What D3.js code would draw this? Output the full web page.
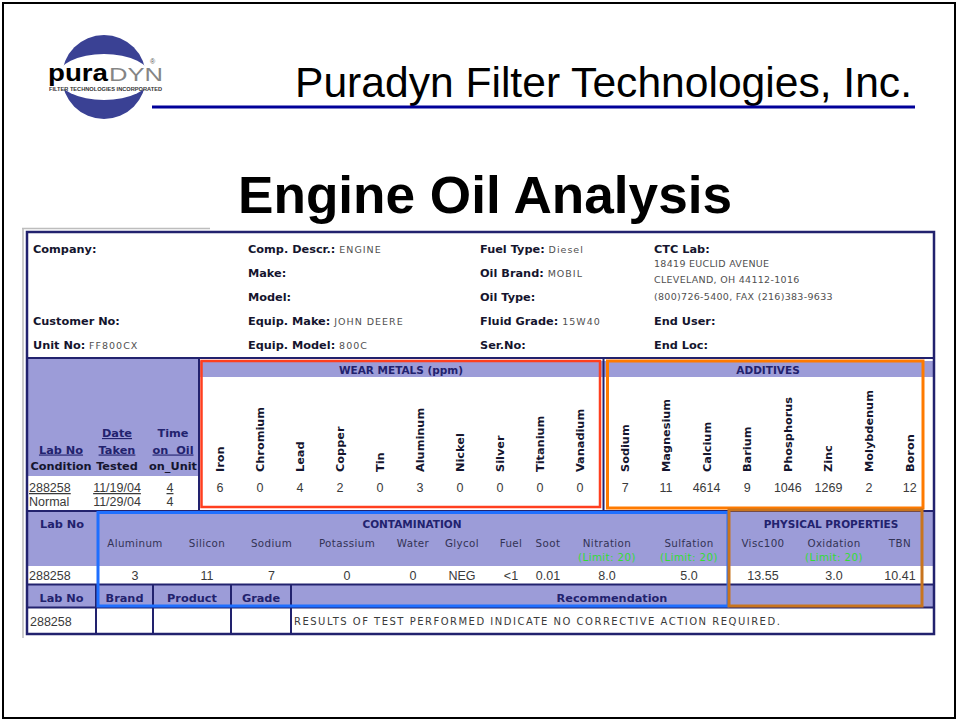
<!DOCTYPE html>
<html>
<head>
<meta charset="utf-8">
<script src="https://cdn.jsdelivr.net/npm/d3@7"></script>
<style>
body { margin: 0; background: #fff; }
</style>
</head>
<body>
<div id="chart"></div>
<script>
// ---- data ----
var company = "Puradyn Filter Technologies, Inc.";
var title = "Engine Oil Analysis";

var infoCol1 = [["Company:", ""], ["", ""], ["", ""], ["Customer No:", ""], ["Unit No:", "FF800CX"]];
var infoCol2 = [["Comp. Descr.:", "ENGINE"], ["Make:", ""], ["Model:", ""], ["Equip. Make:", "JOHN DEERE"], ["Equip. Model:", "800C"]];
var infoCol3 = [["Fuel Type:", "Diesel"], ["Oil Brand:", "MOBIL"], ["Oil Type:", ""], ["Fluid Grade:", "15W40"], ["Ser.No:", ""]];
var infoCol4 = [["CTC Lab:", ""], ["", ""], ["", ""], ["End User:", ""], ["End Loc:", ""]];
var labAddress = ["18419 EUCLID AVENUE", "CLEVELAND, OH 44112-1016", "(800)726-5400, FAX (216)383-9633"];

var sampleHead = [["", "Lab No", "Condition"], ["Date", "Taken", "Tested"], ["Time", "on  Oil", "on_Unit"]];
var sampleRows = [["288258", "11/19/04", "4"], ["Normal", "11/29/04", "4"]];

var wearMetals = ["Iron", "Chromium", "Lead", "Copper", "Tin", "Aluminum", "Nickel", "Silver", "Titanium", "Vanadium"];
var wearValues = [6, 0, 4, 2, 0, 3, 0, 0, 0, 0];

var additives = ["Sodium", "Magnesium", "Calcium", "Barium", "Phosphorus", "Zinc", "Molybdenum", "Boron"];
var additiveValues = [7, 11, 4614, 9, 1046, 1269, 2, 12];

var contamCols = ["Aluminum", "Silicon", "Sodium", "Potassium", "Water", "Glycol", "Fuel", "Soot", "Nitration", "Sulfation"];
var contamValues = ["3", "11", "7", "0", "0", "NEG", "<1", "0.01", "8.0", "5.0"];
var contamLimits = ["", "", "", "", "", "", "", "", "(Limit: 20)", "(Limit: 20)"];

var physCols = ["Visc100", "Oxidation", "TBN"];
var physValues = ["13.55", "3.0", "10.41"];
var physLimits = ["", "(Limit: 20)", ""];

var recHeads = ["Lab No", "Brand", "Product", "Grade", "Recommendation"];
var recRow = ["288258", "", "", "", "RESULTS OF TEST PERFORMED INDICATE NO CORRECTIVE ACTION REQUIRED."];

// ---- layout ----
var SANS = "'Liberation Sans', Arial, sans-serif";
var VERD = "'DejaVu Sans', Verdana, sans-serif";
var NAVY = "#22226e";
var PURPLE = "#9c9cd8";
var INK = "#15152e";
var GREY = "#505050";

var contamWidths = [76, 68, 61, 90, 42, 56, 42, 32, 86, 78];
var physWidths = [70, 72, 60];
var recWidths = [69, 57, 78, 60, 642];

var svg = d3.select("#chart")
	.append("svg")
	.attr("width", 958)
	.attr("height", 721);

// page frame
svg.append("rect")
	.attr("x", 3).attr("y", 3)
	.attr("width", 952).attr("height", 715)
	.attr("fill", "#fff")
	.attr("stroke", "#000")
	.attr("stroke-width", 2);

// ---- logo ----
var logo = svg.append("g");
logo.append("circle")
	.attr("cx", 104).attr("cy", 77).attr("r", 42)
	.attr("fill", "#3a4194");
logo.append("ellipse")
	.attr("cx", 104).attr("cy", 77).attr("rx", 47).attr("ry", 23)
	.attr("fill", "#fff");
logo.append("text")
	.attr("x", 48).attr("y", 81)
	.attr("textLength", 60)
	.attr("lengthAdjust", "spacingAndGlyphs")
	.style("font-family", SANS)
	.style("font-weight", "bold")
	.style("font-size", "24px")
	.text("pura");
logo.append("text")
	.attr("x", 109).attr("y", 81)
	.attr("textLength", 54)
	.attr("lengthAdjust", "spacingAndGlyphs")
	.style("font-family", SANS)
	.style("font-size", "18px")
	.attr("fill", "#858585")
	.text("DYN");
logo.append("text")
	.attr("x", 150).attr("y", 64)
	.style("font-family", SANS)
	.style("font-size", "7px")
	.attr("fill", "#555")
	.text("®");
logo.append("text")
	.attr("x", 49).attr("y", 90.5)
	.attr("textLength", 113)
	.attr("lengthAdjust", "spacingAndGlyphs")
	.style("font-family", SANS)
	.style("font-weight", "bold")
	.style("font-size", "4.5px")
	.attr("fill", "#333")
	.text("FILTER TECHNOLOGIES INCORPORATED");

// ---- titles ----
svg.append("text")
	.attr("x", 295).attr("y", 97)
	.attr("textLength", 617)
	.attr("lengthAdjust", "spacingAndGlyphs")
	.style("font-family", SANS)
	.style("font-size", "42px")
	.text(company);
svg.append("line")
	.attr("x1", 152).attr("x2", 915)
	.attr("y1", 107).attr("y2", 107)
	.attr("stroke", "#000099")
	.attr("stroke-width", 3);
svg.append("text")
	.attr("x", 485).attr("y", 213)
	.attr("text-anchor", "middle")
	.attr("textLength", 494)
	.attr("lengthAdjust", "spacingAndGlyphs")
	.style("font-family", SANS)
	.style("font-weight", "bold")
	.style("font-size", "51px")
	.text(title);

// ---- table backgrounds ----
var tbl = svg.append("g");
tbl.append("path")
	.attr("d", "M22,228.5H210M23,228V638")
	.attr("stroke", "#bdbdbd")
	.attr("stroke-width", 1.5)
	.attr("fill", "none");
tbl.append("rect").attr("x", 27).attr("y", 232).attr("width", 907).attr("height", 402).attr("fill", "#fff");
tbl.append("rect").attr("x", 27).attr("y", 358).attr("width", 172).attr("height", 118).attr("fill", PURPLE);
tbl.append("rect").attr("x", 200).attr("y", 361).attr("width", 734).attr("height", 16).attr("fill", PURPLE);
tbl.append("rect").attr("x", 27).attr("y", 511).attr("width", 907).attr("height", 55).attr("fill", PURPLE);
tbl.append("rect").attr("x", 27).attr("y", 584).attr("width", 907).attr("height", 23).attr("fill", PURPLE);

// navy grid lines
var grid = [
	[27, 358, 934, 358], [199, 358, 199, 511], [603.5, 358, 603.5, 511],
	[27, 511, 934, 511], [27, 584.5, 934, 584.5], [27, 607.5, 934, 607.5]
];
var rx = d3.cumsum(recWidths);
rx.slice(0, 4).forEach(function(v) { grid.push([27 + v, 584, 27 + v, 634]); });
tbl.selectAll(".grid")
	.data(grid)
	.join("line")
	.attr("class", "grid")
	.attr("x1", d => d[0]).attr("y1", d => d[1])
	.attr("x2", d => d[2]).attr("y2", d => d[3])
	.attr("stroke", NAVY)
	.attr("stroke-width", 2);
tbl.append("rect")
	.attr("x", 27).attr("y", 232)
	.attr("width", 907).attr("height", 402)
	.attr("fill", "none")
	.attr("stroke", NAVY)
	.attr("stroke-width", 2.5);

// ---- info block ----
var infoY = d3.scalePoint().domain(d3.range(5)).range([253, 349]);
function infoColumn(rows, x) {
	var t = tbl.selectAll(null)
		.data(rows.filter(r => r[0] !== ""))
		.join("text")
		.attr("x", x)
		.attr("y", d => infoY(rows.indexOf(d)));
	t.append("tspan")
		.style("font-family", VERD)
		.style("font-weight", "bold")
		.style("font-size", "11.3px")
		.attr("fill", INK)
		.text(d => d[0] + " ");
	t.append("tspan")
		.style("font-family", VERD)
		.style("font-size", "9.5px")
		.style("letter-spacing", "1px")
		.attr("fill", GREY)
		.text(d => d[1]);
}
infoColumn(infoCol1, 33);
infoColumn(infoCol2, 248);
infoColumn(infoCol3, 480);
infoColumn(infoCol4, 654);
tbl.selectAll(".addr")
	.data(labAddress)
	.join("text")
	.attr("class", "addr")
	.attr("x", 654)
	.attr("y", (d, i) => 267 + i * 16.3)
	.style("font-family", VERD)
	.style("font-size", "9.5px")
	.style("letter-spacing", "0.3px")
	.attr("fill", GREY)
	.text(d => d);

// ---- sample header block ----
var sx = d3.scaleBand().domain(d3.range(3)).range([33, 201]);
sampleHead.forEach(function(col, ci) {
	col.forEach(function(s, li) {
		if (!s) return;
		tbl.append("text")
			.attr("x", sx(ci) + sx.bandwidth() / 2)
			.attr("y", 437 + li * 16.5)
			.attr("text-anchor", "middle")
			.style("font-family", VERD)
			.style("font-weight", "bold")
			.style("font-size", "11.3px")
			.style("white-space", "pre")
			.style("text-decoration", li < 2 && s !== "Time" ? "underline" : "none")
			.attr("fill", li < 2 ? NAVY : INK)
			.text(s);
	});
});
sampleRows.forEach(function(row, ri) {
	row.forEach(function(s, ci) {
		tbl.append("text")
			.attr("x", ci === 0 ? 29 : sx(ci) + sx.bandwidth() / 2 - (ci === 2 ? 3 : 0))
			.attr("y", 492 + ri * 14)
			.attr("text-anchor", ci === 0 ? "start" : "middle")
			.style("font-family", SANS)
			.style("font-size", "12.5px")
			.style("text-decoration", ri === 0 ? "underline" : "none")
			.attr("fill", "#3a3a3a")
			.text(s);
	});
});

// ---- wear metals & additives ----
var xWear = d3.scaleBand().domain(wearMetals).range([200, 600]);
var xAdd = d3.scaleBand().domain(additives).range([605, 930]);

function elementColumns(names, values, x, cls) {
	tbl.selectAll("." + cls + "-l")
		.data(names)
		.join("text")
		.attr("class", cls + "-l")
		.attr("transform", d => `translate(${x(d) + x.bandwidth() / 2 + 4},${472}) rotate(-90)`)
		.style("font-family", VERD)
		.style("font-weight", "bold")
		.style("font-size", "11.3px")
		.attr("fill", INK)
		.text(d => d);
	tbl.selectAll("." + cls + "-v")
		.data(values)
		.join("text")
		.attr("class", cls + "-v")
		.attr("x", (d, i) => x(names[i]) + x.bandwidth() / 2)
		.attr("y", 492)
		.attr("text-anchor", "middle")
		.style("font-family", SANS)
		.style("font-size", "12.5px")
		.attr("fill", "#3a3a3a")
		.text(d => d);
}
elementColumns(wearMetals, wearValues, xWear, "wear");
elementColumns(additives, additiveValues, xAdd, "add");

function sectionTitle(s, x, y) {
	tbl.append("text")
		.attr("x", x).attr("y", y)
		.attr("text-anchor", "middle")
		.style("font-family", VERD)
		.style("font-weight", "bold")
		.style("font-size", "10.5px")
		.attr("fill", NAVY)
		.text(s);
}
sectionTitle("WEAR METALS (ppm)", 401, 374);
sectionTitle("ADDITIVES", 768, 374);

// ---- contamination & physical properties ----
function columnCenters(widths, x0) {
	var c = d3.cumsum(widths);
	return widths.map((w, i) => x0 + c[i] - w / 2);
}
var xCont = d3.scaleOrdinal().domain(contamCols).range(columnCenters(contamWidths, 97));
var xPhys = d3.scaleOrdinal().domain(physCols).range(columnCenters(physWidths, 728));

function measureColumns(names, values, limits, x) {
	names.forEach(function(n, i) {
		tbl.append("text")
			.attr("x", x(n)).attr("y", 547)
			.attr("text-anchor", "middle")
			.style("font-family", VERD)
			.style("font-size", "10.3px")
			.style("letter-spacing", "0.4px")
			.attr("fill", "#333355")
			.text(n);
		if (limits[i]) {
			tbl.append("text")
				.attr("x", x(n)).attr("y", 561)
				.attr("text-anchor", "middle")
				.style("font-family", VERD)
				.style("font-size", "10.3px")
				.style("letter-spacing", "0.4px")
				.attr("fill", "#33dd33")
				.text(limits[i]);
		}
		tbl.append("text")
			.attr("x", x(n)).attr("y", 580)
			.attr("text-anchor", "middle")
			.style("font-family", SANS)
			.style("font-size", "12.5px")
			.attr("fill", "#3a3a3a")
			.text(values[i]);
	});
}
measureColumns(contamCols, contamValues, contamLimits, xCont);
measureColumns(physCols, physValues, physLimits, xPhys);

tbl.append("text")
	.attr("x", 62).attr("y", 528)
	.attr("text-anchor", "middle")
	.style("font-family", VERD)
	.style("font-weight", "bold")
	.style("font-size", "11.3px")
	.attr("fill", NAVY)
	.text("Lab No");
tbl.append("text")
	.attr("x", 29).attr("y", 580)
	.style("font-family", SANS)
	.style("font-size", "12.5px")
	.attr("fill", "#3a3a3a")
	.text("288258");
sectionTitle("CONTAMINATION", 412, 528);
sectionTitle("PHYSICAL PROPERTIES", 831, 528);

// ---- recommendation rows ----
var recX = recWidths.map((w, i) => 27 + (i ? rx[i - 1] : 0));
recHeads.forEach(function(s, i) {
	tbl.append("text")
		.attr("x", recX[i] + recWidths[i] / 2)
		.attr("y", 602)
		.attr("text-anchor", "middle")
		.style("font-family", VERD)
		.style("font-weight", "bold")
		.style("font-size", "11.3px")
		.attr("fill", NAVY)
		.text(s);
});
recRow.forEach(function(s, i) {
	tbl.append("text")
		.attr("x", recX[i] + 3)
		.attr("y", i === 0 ? 626 : 625)
		.style("font-family", i === 0 ? SANS : VERD)
		.style("font-size", i === 0 ? "12.5px" : "10px")
		.style("letter-spacing", i === 0 ? "0px" : "1.5px")
		.attr("fill", "#3a3a3a")
		.text(s);
});

// ---- highlight boxes ----
var boxes = [
	{ x: 201.5, y: 361, w: 398.5, h: 146, c: "#ff3f1f", sw: 2.5 },
	{ x: 607.5, y: 361, w: 315.5, h: 147, c: "#ff7a00", sw: 3 },
	{ x: 98, y: 512.5, w: 630, h: 93.5, c: "#1f6fff", sw: 3 },
	{ x: 729, y: 510, w: 193, h: 96, c: "#c8741e", sw: 3 }
];
svg.selectAll(".box")
	.data(boxes)
	.join("rect")
	.attr("class", "box")
	.attr("x", d => d.x).attr("y", d => d.y)
	.attr("width", d => d.w).attr("height", d => d.h)
	.attr("fill", "none")
	.attr("stroke", d => d.c)
	.attr("stroke-width", d => d.sw);
</script>
</body>
</html>
